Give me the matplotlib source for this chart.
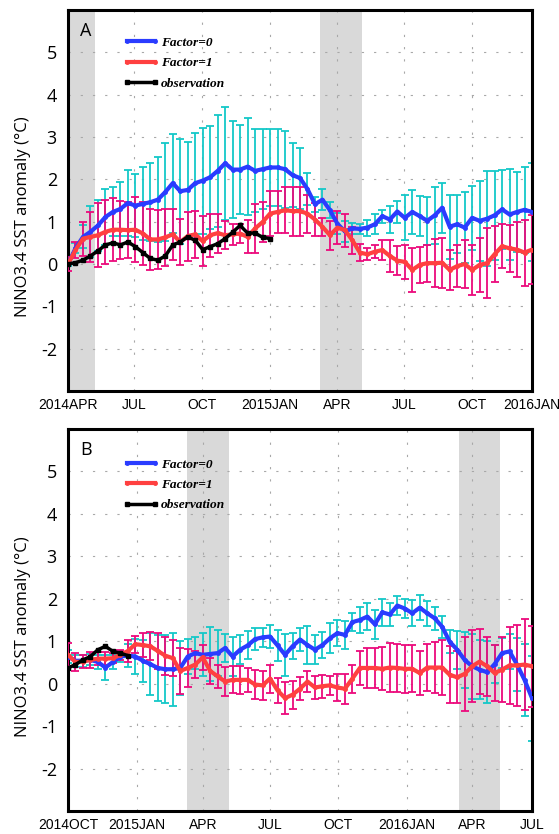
import numpy as np
import matplotlib.pyplot as plt

# ---- panel A : runs from 2014APR ----
A_f0 = [0.00,0.37,0.64,0.76,0.91,1.11,1.23,1.30,1.44,1.38,
        1.42,1.46,1.52,1.70,1.91,1.72,1.75,1.91,1.97,2.05,
        2.20,2.38,2.23,2.23,2.30,2.20,2.24,2.28,2.28,2.24,
        2.10,2.03,1.77,1.41,1.52,1.27,0.95,0.77,0.84,0.83,
        0.86,0.94,1.13,1.05,1.24,1.09,1.23,1.13,1.02,1.15,
        1.33,0.88,0.94,0.86,1.09,1.02,1.07,1.15,1.29,1.17,
        1.23,1.28,1.23]
A_f0_err = [0.05,0.12,0.27,0.60,0.60,0.66,0.58,0.64,0.78,0.74,
            0.86,0.92,1.01,1.16,1.17,1.24,1.13,1.19,1.25,1.22,
            1.33,1.34,1.14,1.06,1.15,0.98,0.94,0.92,0.92,0.91,
            0.76,0.72,0.37,0.18,0.25,0.19,0.25,0.25,0.12,0.11,
            0.19,0.23,0.15,0.31,0.26,0.53,0.52,0.48,0.57,0.68,
            0.59,0.76,0.69,0.83,0.75,0.94,1.12,1.05,0.93,1.08,
            0.95,1.02,1.16]
A_f1 = [0.00,0.33,0.60,0.64,0.68,0.76,0.81,0.81,0.80,0.81,
        0.72,0.58,0.58,0.63,0.70,0.52,0.66,0.70,0.54,0.68,
        0.73,0.68,0.70,0.72,0.64,0.84,0.99,1.19,1.23,1.27,
        1.25,1.25,1.19,1.05,0.88,0.68,0.86,0.80,0.56,0.27,
        0.23,0.29,0.33,0.19,0.08,0.05,-0.14,-0.02,0.02,0.02,
        0.03,-0.14,-0.05,0.00,-0.14,-0.02,0.02,0.23,0.42,0.37,
        0.34,0.27,0.34]
A_f1_err = [0.17,0.18,0.40,0.59,0.76,0.76,0.75,0.69,0.66,0.77,
            0.74,0.72,0.70,0.67,0.60,0.55,0.58,0.55,0.59,0.51,
            0.46,0.33,0.25,0.23,0.39,0.58,0.47,0.54,0.50,0.54,
            0.58,0.58,0.45,0.39,0.21,0.34,0.39,0.39,0.32,0.20,
            0.14,0.16,0.23,0.37,0.34,0.40,0.51,0.43,0.44,0.56,
            0.59,0.48,0.50,0.56,0.60,0.64,0.83,0.66,0.52,0.56,
            0.65,0.78,0.81]
A_obs = [0.00,0.03,0.09,0.19,0.31,0.45,0.50,0.45,0.52,0.41,
         0.27,0.13,0.09,0.19,0.45,0.52,0.64,0.56,0.34,0.41,
         0.48,0.60,0.75,0.91,0.73,0.73,0.63,0.60]

# ---- panel B : runs from 2014OCT ----
B_f0 = [0.64,0.54,0.54,0.56,0.51,0.38,0.51,0.64,0.66,0.64,
        0.54,0.46,0.37,0.34,0.34,0.37,0.64,0.72,0.68,0.70,
        0.72,0.84,0.64,0.80,0.90,1.05,1.09,1.11,0.90,0.68,
        0.88,1.04,0.91,0.80,0.91,1.07,1.19,1.15,1.45,1.50,
        1.58,1.40,1.68,1.63,1.84,1.77,1.66,1.79,1.66,1.54,
        1.34,0.99,0.80,0.56,0.41,0.33,0.27,0.46,0.72,0.76,
        0.45,0.09,-0.34]
B_f0_err = [0.15,0.14,0.14,0.13,0.16,0.30,0.17,0.12,0.27,0.41,
            0.49,0.73,0.78,0.80,0.86,0.64,0.41,0.37,0.51,0.63,
            0.55,0.33,0.45,0.34,0.33,0.25,0.23,0.27,0.37,0.49,
            0.31,0.28,0.45,0.34,0.31,0.35,0.31,0.33,0.21,0.31,
            0.31,0.34,0.31,0.26,0.23,0.23,0.30,0.30,0.29,0.27,
            0.26,0.27,0.45,0.66,0.76,0.70,0.73,0.45,0.35,0.41,
            0.63,0.84,1.00]
B_f1 = [0.68,0.51,0.52,0.56,0.59,0.59,0.60,0.68,0.77,0.93,
        0.91,0.88,0.77,0.66,0.60,0.30,0.37,0.45,0.62,0.30,
        0.17,0.05,0.09,0.09,0.09,-0.02,-0.04,0.12,-0.16,-0.34,
        -0.26,-0.12,0.05,-0.09,-0.06,-0.04,-0.09,-0.12,0.12,0.37,
        0.37,0.37,0.35,0.38,0.37,0.35,0.35,0.25,0.38,0.38,
        0.38,0.21,0.15,0.23,0.41,0.52,0.41,0.25,0.33,0.43,
        0.43,0.45,0.41]
B_f1_err = [0.27,0.21,0.16,0.18,0.15,0.15,0.12,0.12,0.25,0.20,
            0.28,0.33,0.42,0.45,0.43,0.55,0.44,0.31,0.30,0.30,
            0.28,0.35,0.32,0.33,0.28,0.35,0.34,0.33,0.30,0.37,
            0.33,0.27,0.24,0.27,0.27,0.22,0.32,0.35,0.33,0.40,
            0.47,0.47,0.51,0.57,0.57,0.57,0.55,0.51,0.55,0.60,
            0.64,0.67,0.61,0.87,0.85,0.76,0.70,0.66,0.76,0.91,
            0.95,1.07,0.96]
B_obs = [0.37,0.45,0.56,0.64,0.80,0.88,0.76,0.72,0.66]

# x axis in months counted from 2014 JAN (=0)
A_start, A_end = 3, 24
B_start, B_end = 9, 30
A_ticks = [3, 6, 9.07, 12.13, 15.17, 18.2, 21.27, 24]
A_labels = ["2014APR", "JUL", "OCT", "2015JAN", "APR", "JUL", "OCT", "2016JAN"]
B_ticks = [9, 12.12, 15.11, 18.14, 21.22, 24.34, 27.28, 30]
B_labels = ["2014OCT", "2015JAN", "APR", "JUL", "OCT", "2016JAN", "APR", "JUL"]
# spring (MAM-ish) shading
A_shade = [(2.33, 4.22), (14.40, 16.29)]
B_shade = [(14.38, 16.29), (26.69, 28.57)]

sans = ["Open Sans", "DejaVu Sans"]
narrow = ["Liberation Sans Narrow", "Liberation Sans", "DejaVu Sans"]


def draw_panel(ax, start, end, f0, f0e, f1, f1e, obs, shades, ticks, labels, letter, leg_y):
    x = np.linspace(start, end, len(f0))
    xo = x[:len(obs)]
    for s0, s1 in shades:
        ax.axvspan(s0, s1, color="#d9d9d9", lw=0, zorder=0)
    ax.errorbar(x, f0, yerr=f0e, fmt="none", ecolor="#14c8c8", elinewidth=1.3,
                capsize=3, capthick=1.3, zorder=2)
    ax.errorbar(x, f1, yerr=f1e, fmt="none", ecolor="#ec0a7c", elinewidth=1.3,
                capsize=3, capthick=1.3, zorder=3)
    ax.plot(x, f0, color="#2a3cff", lw=3, marker="o", ms=2.5, label="Factor=0", zorder=4)
    ax.plot(x, f1, color="#ff4040", lw=3, marker="o", ms=2.5, label="Factor=1", zorder=5)
    ax.plot(xo, obs, color="black", lw=2.5, marker="s", ms=2.5, label="observation", zorder=6)

    ax.set_xlim(start, end)
    ax.set_ylim(-3, 6)
    ax.set_yticks(range(-3, 7))
    ax.set_yticklabels([""] + [str(v) for v in range(-2, 6)] + [""], family=sans, fontsize=13)
    ax.set_xticks(ticks)
    ax.set_xticklabels(labels, family=narrow, fontsize=10)
    ax.tick_params(axis="y", length=0, pad=8)
    ax.tick_params(axis="x", length=0, pad=5)
    ax.set_axisbelow(True)
    ax.grid(True, color="#a8a8a8", lw=0.8, linestyle=(0, (2, 9)))
    for sp in ax.spines.values():
        sp.set_linewidth(2.2)
    ax.set_ylabel("NINO3.4 SST anomaly (°C)", family=sans, fontsize=12)
    ax.yaxis.set_label_coords(-0.08, 0.457)
    ax.text(0.026, 0.944, letter, transform=ax.transAxes, family=sans, fontsize=13,
            ha="left", va="center")
    ax.legend(loc="upper left", bbox_to_anchor=(0.1185, leg_y), frameon=False,
              borderpad=0, borderaxespad=0, handlelength=2.7, handletextpad=0.15,
              labelspacing=0.6, numpoints=2,
              prop={"family": "Liberation Serif", "weight": "bold", "style": "italic", "size": 9.6})


fig = plt.figure(figsize=(5.59, 8.34), dpi=100)
axA = fig.add_axes([68/559, 1-391/834, 464/559, 381/834])
axB = fig.add_axes([68/559, 1-811/834, 464/559, 382/834])

draw_panel(axA, A_start, A_end, A_f0, A_f0_err, A_f1, A_f1_err, A_obs,
           A_shade, A_ticks, A_labels, "A", 0.93)
draw_panel(axB, B_start, B_end, B_f0, B_f0_err, B_f1, B_f1_err, B_obs,
           B_shade, B_ticks, B_labels, "B", 0.923)

plt.savefig("out.png", dpi=100)
